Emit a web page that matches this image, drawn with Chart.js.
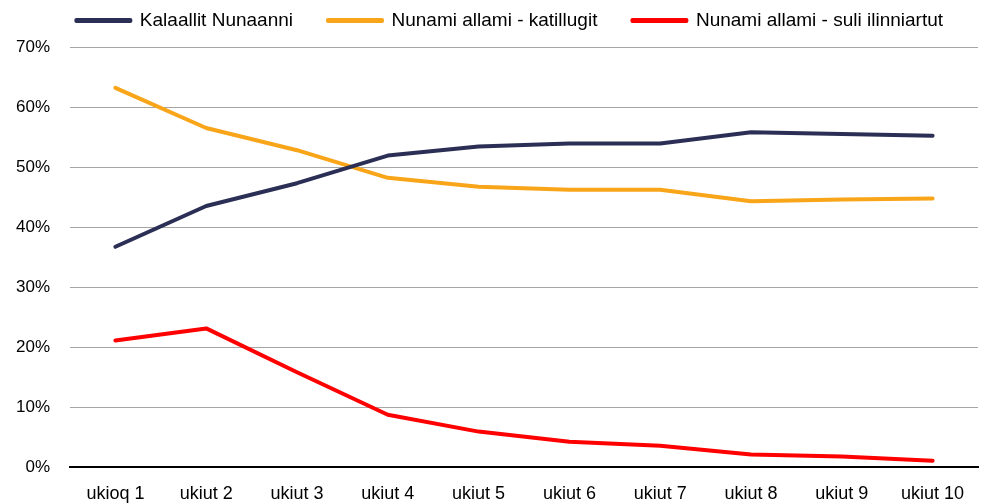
<!DOCTYPE html>
<html>
<head>
<meta charset="utf-8">
<script src="https://cdn.jsdelivr.net/npm/chart.js@4.4.0/dist/chart.umd.min.js"></script>
<style>
  html, body { margin: 0; padding: 0; background: #fff; }
  #wrap { width: 985px; height: 504px; }
</style>
</head>
<body>
<div id="wrap"><canvas id="myLineChart"></canvas></div>
<script>
// data (percent)
var ukiut = ['ukioq 1','ukiut 2','ukiut 3','ukiut 4','ukiut 5','ukiut 6','ukiut 7','ukiut 8','ukiut 9','ukiut 10'];
var kalaallit_nunaanni = [36.7, 43.5, 47.3, 51.9, 53.4, 53.9, 53.9, 55.8, 55.5, 55.2];
var nunami_allami_katillugit = [63.2, 56.5, 52.8, 48.2, 46.7, 46.2, 46.2, 44.3, 44.6, 44.75];
var nunami_allami_suli = [21.1, 23.1, 15.8, 8.7, 5.9, 4.2, 3.55, 2.1, 1.75, 1.05];
var y_ticks = [0, 10, 20, 30, 40, 50, 60, 70];

var fontFam = "'Liberation Sans', Arial, sans-serif";

function serie(label, data, color){
  return {
    label: label,
    data: data,
    borderColor: color,
    backgroundColor: color,
    borderWidth: 4,
    pointRadius: 0,
    pointHoverRadius: 0,
    tension: 0,
    borderCapStyle: 'round',
    borderJoinStyle: 'round',
    fill: false
  };
}

// legend spacing comes from labels.padding, which also makes it tall -> force its height
var legendHeight = {
  id: 'legendHeight',
  beforeLayout: function(chart){
    var lg = chart.legend;
    if (!lg || lg._fixed) return;
    var fit = lg.fit;
    lg.fit = function(){ fit.call(this); this.height = 71; };
    lg._fixed = true;
  }
};

var chardata = {
  labels: ukiut,
  datasets: [
    serie('Kalaallit Nunaanni', kalaallit_nunaanni, '#2b2f55'),
    serie('Nunami allami - katillugit', nunami_allami_katillugit, '#f9a51a'),
    serie('Nunami allami - suli ilinniartut', nunami_allami_suli, '#ff0000')
  ]
};

var ctx = document.getElementById('myLineChart');
var lineGraph = new Chart(ctx, {
  type: 'line',
  data: chardata,
  plugins: [legendHeight],
  options: {
    responsive: true,
    maintainAspectRatio: false,
    animation: false,
    layout: { padding: { left: 0, right: 7, top: -24, bottom: 0 } },
    plugins: {
      tooltip: { enabled: false },
      legend: {
        display: true,
        position: 'top',
        align: 'end',
        labels: {
          color: '#000',
          font: { family: fontFam, size: 19 },
          boxWidth: 54,
          boxHeight: 1,
          padding: 35
        }
      }
    },
    scales: {
      x: {
        offset: true,
        grid: { display: false, drawTicks: false },
        border: { display: true, color: '#000', width: 2 },
        ticks: { color: '#000', font: { family: fontFam, size: 18 }, padding: 16, maxRotation: 0 },
        afterFit: function(s){ s.height = 37; }
      },
      y: {
        min: 0,
        max: 70,
        afterBuildTicks: function(s){ s.ticks = y_ticks.map(function(v){ return { value: v }; }); },
        grid: { color: '#a6a6a6', lineWidth: 1, drawTicks: false },
        border: { display: false },
        ticks: {
          color: '#000',
          font: { family: fontFam, size: 17 },
          padding: 20,
          callback: function(v){ return v + '%'; }
        },
        afterFit: function(s){ s.width = 70; }
      }
    }
  }
});
</script>
</body>
</html>
